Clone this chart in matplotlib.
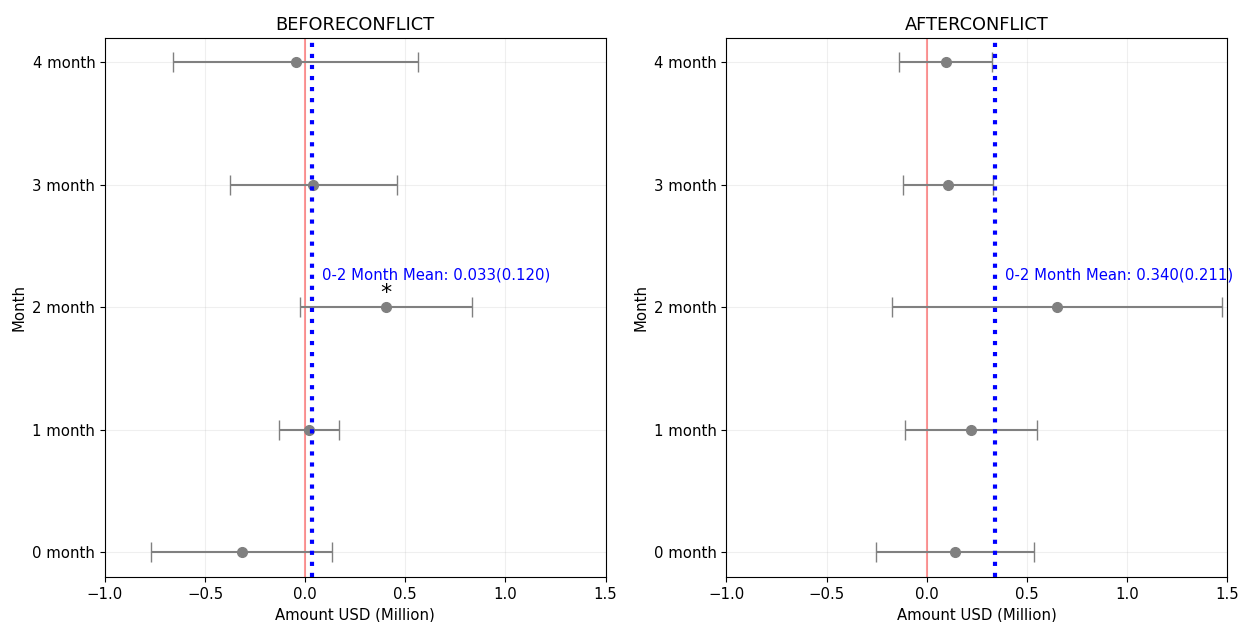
import numpy as np
import matplotlib
matplotlib.use('Agg')
import matplotlib.pyplot as plt

plt.rcParams['font.size'] = 10.7

# Month offsets and their labels
months = [0, 1, 2, 3, 4]
month_labels = ['0 month', '1 month', '2 month', '3 month', '4 month']

# Estimated effect (Million USD) and error half-widths per month
before_coef = [-0.317, 0.019, 0.402, 0.041, -0.048]
before_err = [0.453, 0.151, 0.430, 0.419, 0.610]
before_mean, before_se = 0.033, 0.120

after_coef = [0.142, 0.222, 0.652, 0.108, 0.095]
after_err = [0.396, 0.330, 0.825, 0.225, 0.233]
after_mean, after_se = 0.340, 0.211

# months marked as significant
before_sig = [2]
after_sig = []


def draw_panel(ax, coef, err, mean, se, sig, title):
    ax.errorbar(coef, months, xerr=err, fmt='o', color='gray', ecolor='gray',
                markersize=7, capsize=7, elinewidth=1.5, zorder=3)
    ax.axvline(0, color='red', alpha=0.4, linewidth=1.5, zorder=2)
    ax.axvline(mean, color='blue', linestyle=':', linewidth=3, zorder=4)
    ax.text(mean + 0.05, 2.2, '0-2 Month Mean: %.3f(%.3f)' % (mean, se),
            color='blue', va='bottom', ha='left')
    for m in sig:
        ax.text(coef[m], 2.04, '*', ha='center', va='bottom', fontsize=16)
    ax.set_yticks(months)
    ax.set_yticklabels(month_labels)
    ax.set_xlim(-1.0, 1.5)
    ax.set_title(title, fontsize=12.8)
    ax.set_xlabel('Amount USD (Million)')
    ax.set_ylabel('Month')
    ax.grid(True, alpha=0.2)


fig, (ax1, ax2) = plt.subplots(1, 2, figsize=(12.41, 6.22), dpi=100)
plt.subplots_adjust(left=0.0846, right=0.9887, top=0.939, bottom=0.0725, wspace=0.2415)

draw_panel(ax1, before_coef, before_err, before_mean, before_se, before_sig, 'BEFORECONFLICT')
draw_panel(ax2, after_coef, after_err, after_mean, after_se, after_sig, 'AFTERCONFLICT')

plt.savefig('out.png', dpi=100)
